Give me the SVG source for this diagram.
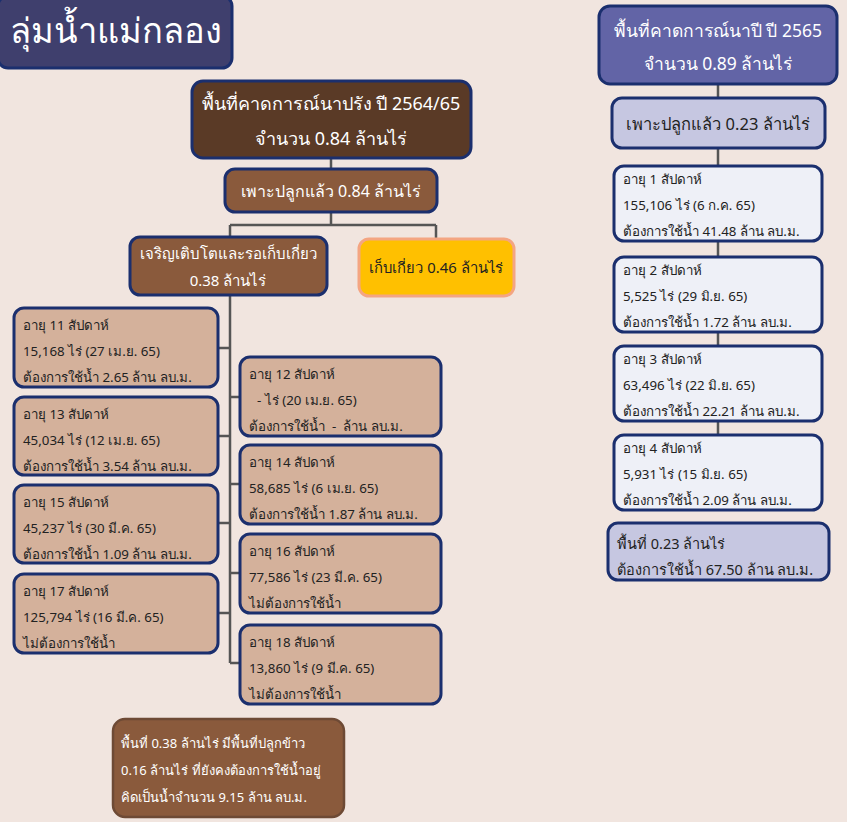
<svg xmlns="http://www.w3.org/2000/svg" width="847" height="822" viewBox="0 0 847 822">
<style>
text{font-family:"Noto Sans","DejaVu Sans",sans-serif}
.w{fill:#fff}
.d{fill:#222}
.c{text-anchor:middle}
.s{font-size:13.3px}
.p{white-space:pre}
.tan{fill:#D4B19B;stroke:#1B2F6E;stroke-width:3}
.lt{fill:#EEF0F7;stroke:#1B2F6E;stroke-width:3}
.lav{fill:#C6C7E1;stroke:#1B2F6E;stroke-width:3}
.br{fill:#8A5A3C;stroke:#1B2F6E;stroke-width:3}
.ln{stroke:#555;stroke-width:2.5;fill:none}
</style>
<rect width="847" height="822" fill="#F1E5DF"/>
<g id="connectors">
<path class="ln" d="M331 158V225M230 225H436M230 225V663M436 225V240"/>
<path class="ln" d="M218 348H230M218 436H230M218 523H230M218 613H230M230 397H240M230 484H240M230 573H240M230 663H240"/>
<path class="ln" d="M718 84V435"/>
</g>
<g id="title">
<rect x="-2" y="-4" width="234" height="72" rx="10" fill="#3F3F6D" stroke="#1B2F6E" stroke-width="3"/>
<text x="10" y="43" class="w" font-size="34.5">ลุ่มน้ำแม่กลอง</text>
</g>
<g id="main">
<rect x="192" y="81" width="279" height="77" rx="11" fill="#5A3A26" stroke="#1B2F6E" stroke-width="3"/>
<text x="331" y="110" class="w c" font-size="18">พื้นที่คาดการณ์นาปรัง ปี 2564/65</text>
<text x="331" y="145" class="w c" font-size="18">จำนวน 0.84 ล้านไร่</text>
</g>
<g id="planted">
<rect x="225" y="169" width="212" height="43" rx="10" class="br"/>
<text x="331" y="197" class="w c" font-size="16">เพาะปลูกแล้ว 0.84 ล้านไร่</text>
</g>
<g id="growing">
<rect x="130" y="237" width="197" height="58" rx="10" class="br"/>
<text x="228" y="259" class="w c" font-size="15">เจริญเติบโตและรอเก็บเกี่ยว</text>
<text x="228" y="286" class="w c" font-size="15">0.38 ล้านไร่</text>
</g>
<g id="harvested">
<rect x="359" y="239" width="155" height="57" rx="10" fill="#FFC000" stroke="#F4A582" stroke-width="3"/>
<text x="436" y="273" class="d c" font-size="14.8">เก็บเกี่ยว 0.46 ล้านไร่</text>
</g>
<g id="w11">
<rect x="14" y="308" width="204" height="79" rx="10" class="tan"/>
<text x="23" y="330" class="d s">อายุ 11 สัปดาห์</text>
<text x="23" y="356" class="d s">15,168 ไร่ (27 เม.ย. 65)</text>
<text x="23" y="382" class="d s">ต้องการใช้น้ำ 2.65 ล้าน ลบ.ม.</text>
</g>
<g id="w13">
<rect x="14" y="397" width="204" height="78" rx="10" class="tan"/>
<text x="23" y="419" class="d s">อายุ 13 สัปดาห์</text>
<text x="23" y="445" class="d s">45,034 ไร่ (12 เม.ย. 65)</text>
<text x="23" y="471" class="d s">ต้องการใช้น้ำ 3.54 ล้าน ลบ.ม.</text>
</g>
<g id="w15">
<rect x="14" y="485" width="204" height="78" rx="10" class="tan"/>
<text x="23" y="507" class="d s">อายุ 15 สัปดาห์</text>
<text x="23" y="533" class="d s">45,237 ไร่ (30 มี.ค. 65)</text>
<text x="23" y="559" class="d s">ต้องการใช้น้ำ 1.09 ล้าน ลบ.ม.</text>
</g>
<g id="w17">
<rect x="14" y="574" width="204" height="79" rx="10" class="tan"/>
<text x="23" y="596" class="d s">อายุ 17 สัปดาห์</text>
<text x="23" y="622" class="d s">125,794 ไร่ (16 มี.ค. 65)</text>
<text x="23" y="648" class="d s">ไม่ต้องการใช้น้ำ</text>
</g>
<g id="w12">
<rect x="240" y="357" width="201" height="79" rx="10" class="tan"/>
<text x="249" y="379" class="d s">อายุ 12 สัปดาห์</text>
<text x="257" y="405" class="d s">- ไร่ (20 เม.ย. 65)</text>
<text x="249" y="431" class="d s p">ต้องการใช้น้ำ  -  ล้าน ลบ.ม.</text>
</g>
<g id="w14">
<rect x="240" y="445" width="201" height="79" rx="10" class="tan"/>
<text x="249" y="467" class="d s">อายุ 14 สัปดาห์</text>
<text x="249" y="493" class="d s">58,685 ไร่ (6 เม.ย. 65)</text>
<text x="249" y="519" class="d s">ต้องการใช้น้ำ 1.87 ล้าน ลบ.ม.</text>
</g>
<g id="w16">
<rect x="240" y="534" width="201" height="79" rx="10" class="tan"/>
<text x="249" y="556" class="d s">อายุ 16 สัปดาห์</text>
<text x="249" y="582" class="d s">77,586 ไร่ (23 มี.ค. 65)</text>
<text x="249" y="608" class="d s">ไม่ต้องการใช้น้ำ</text>
</g>
<g id="w18">
<rect x="240" y="625" width="201" height="79" rx="10" class="tan"/>
<text x="249" y="647" class="d s">อายุ 18 สัปดาห์</text>
<text x="249" y="673" class="d s">13,860 ไร่ (9 มี.ค. 65)</text>
<text x="249" y="699" class="d s">ไม่ต้องการใช้น้ำ</text>
</g>
<g id="summaryLeft">
<rect x="113" y="719" width="231" height="98" rx="12" fill="#8A5A3C" stroke="#6E4A35" stroke-width="2.5"/>
<text x="121" y="748" class="w" font-size="13">พื้นที่ 0.38 ล้านไร่ มีพื้นที่ปลูกข้าว</text>
<text x="121" y="775" class="w" font-size="13">0.16 ล้านไร่ ที่ยังคงต้องการใช้น้ำอยู่</text>
<text x="121" y="802" class="w" font-size="13">คิดเป็นน้ำจำนวน 9.15 ล้าน ลบ.ม.</text>
</g>
<g id="main2">
<rect x="599" y="6" width="238" height="78" rx="11" fill="#6264A6" stroke="#1B2F6E" stroke-width="3"/>
<text x="718" y="37" class="w c" font-size="17.5">พื้นที่คาดการณ์นาปี ปี 2565</text>
<text x="718" y="70" class="w c" font-size="17.5">จำนวน 0.89 ล้านไร่</text>
</g>
<g id="planted2">
<rect x="612" y="98" width="213" height="50" rx="10" class="lav"/>
<text x="718" y="130" class="d c" font-size="16.5">เพาะปลูกแล้ว 0.23 ล้านไร่</text>
</g>
<g id="a1">
<rect x="614" y="166" width="208" height="75" rx="10" class="lt"/>
<text x="623" y="184" class="d s">อายุ 1 สัปดาห์</text>
<text x="623" y="210" class="d s">155,106 ไร่ (6 ก.ค. 65)</text>
<text x="623" y="236" class="d s">ต้องการใช้น้ำ 41.48 ล้าน ลบ.ม.</text>
</g>
<g id="a2">
<rect x="614" y="257" width="208" height="75" rx="10" class="lt"/>
<text x="623" y="275" class="d s">อายุ 2 สัปดาห์</text>
<text x="623" y="301" class="d s">5,525 ไร่ (29 มิ.ย. 65)</text>
<text x="623" y="327" class="d s">ต้องการใช้น้ำ 1.72 ล้าน ลบ.ม.</text>
</g>
<g id="a3">
<rect x="614" y="346" width="208" height="75" rx="10" class="lt"/>
<text x="623" y="364" class="d s">อายุ 3 สัปดาห์</text>
<text x="623" y="390" class="d s">63,496 ไร่ (22 มิ.ย. 65)</text>
<text x="623" y="416" class="d s">ต้องการใช้น้ำ 22.21 ล้าน ลบ.ม.</text>
</g>
<g id="a4">
<rect x="614" y="435" width="208" height="75" rx="10" class="lt"/>
<text x="623" y="453" class="d s">อายุ 4 สัปดาห์</text>
<text x="623" y="479" class="d s">5,931 ไร่ (15 มิ.ย. 65)</text>
<text x="623" y="505" class="d s">ต้องการใช้น้ำ 2.09 ล้าน ลบ.ม.</text>
</g>
<g id="summaryRight">
<rect x="608" y="523" width="221" height="57" rx="10" class="lav"/>
<text x="617" y="549" class="d" font-size="14.5">พื้นที่ 0.23 ล้านไร่</text>
<text x="617" y="575" class="d" font-size="14.5">ต้องการใช้น้ำ 67.50 ล้าน ลบ.ม.</text>
</g>
</svg>
